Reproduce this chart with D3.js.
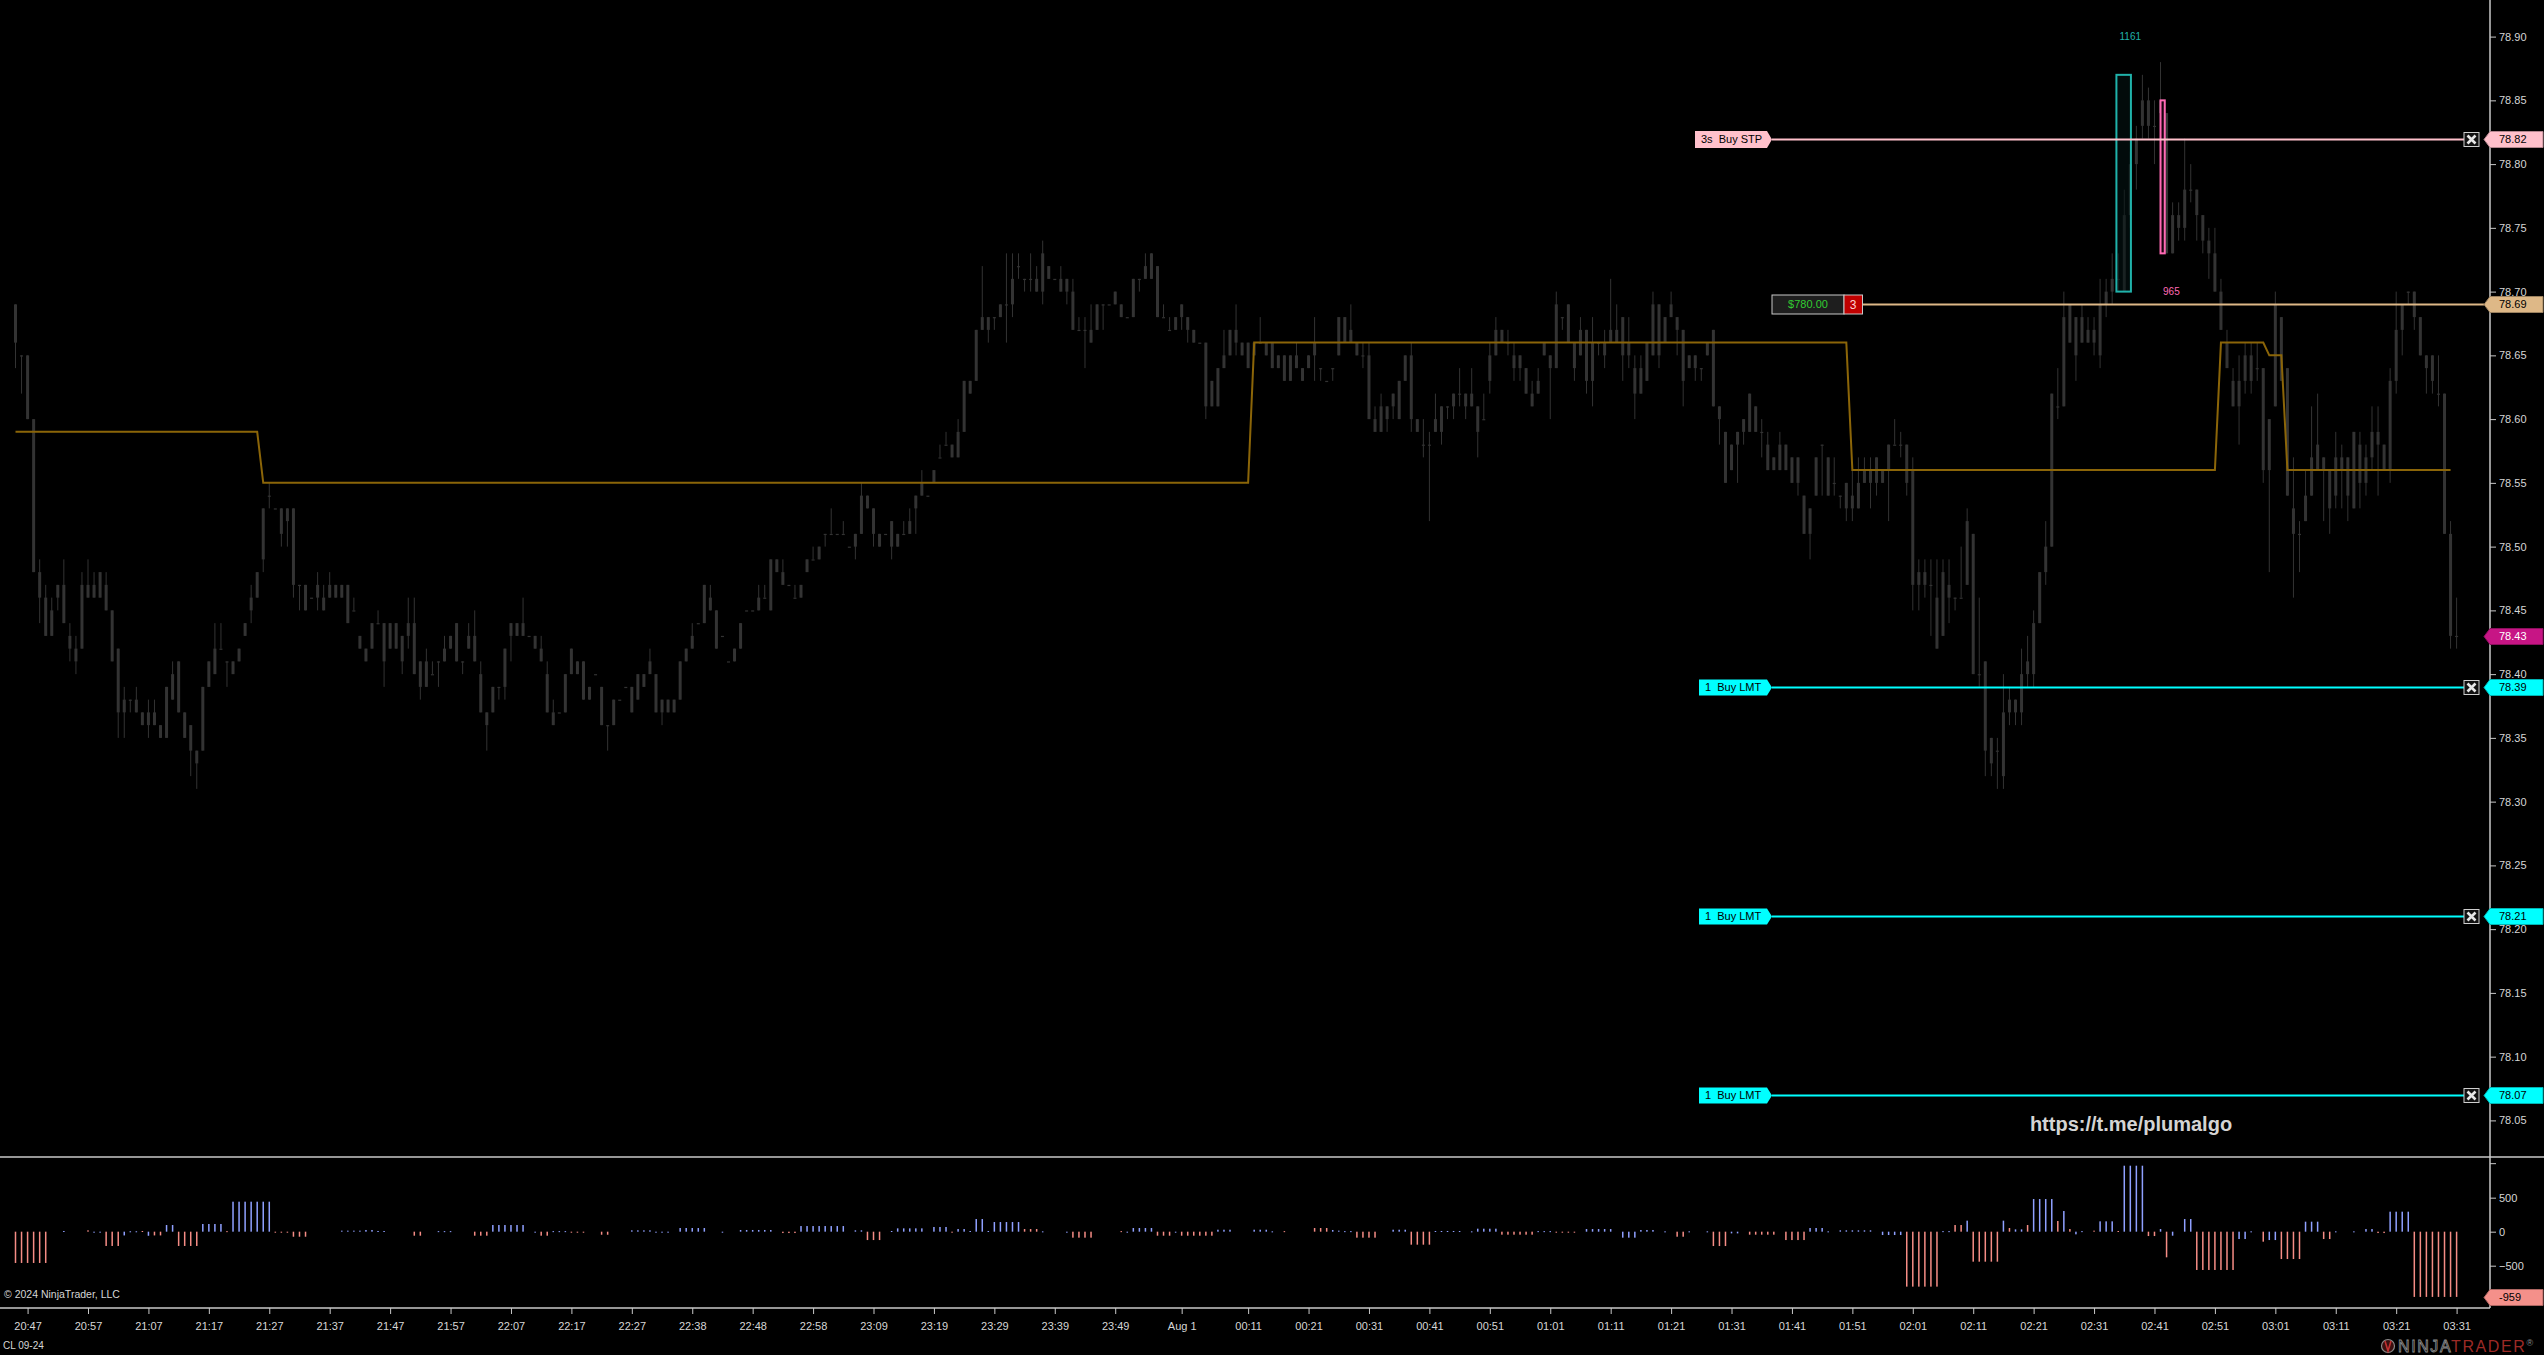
<!DOCTYPE html>
<html><head><meta charset="utf-8">
<script src="https://cdn.jsdelivr.net/npm/d3@7"></script>
<style>html,body{margin:0;padding:0;background:#000;overflow:hidden}svg{display:block}</style>
</head><body><svg id="chart"></svg>
<script>
// ---------------- DATA ----------------
// 1-minute bars, [open, high, low, close] in cents above 78.00
const priceBase = 78;
const ohlcCents = [
[69,69,64,66],[65,65,62,65],[65,65,60,60],[60,60,48,48],[48,49,44,46],[46,47,43,43],[43,46,43,45],[46,47,45,47],[47,49,44,44],[43,44,41,42],
[42,43,40,41],[42,48,42,47],[46,49,46,47],[47,48,46,46],[46,48,46,48],[47,48,45,45],[45,45,41,41],[42,42,35,37],[37,39,35,38],[38,38,37,38],
[38,39,37,37],[37,37,36,36],[36,38,35,37],[37,38,36,36],[36,36,35,35],[35,39,35,39],[38,41,38,40],[41,41,37,37],[37,37,35,35],[36,36,32,34],
[34,34,31,33],[34,39,34,39],[39,41,39,41],[40,44,40,42],[42,44,42,42],[41,41,39,41],[41,41,40,40],[41,42,41,42],[43,44,43,44],[45,47,44,46],
[46,48,46,48],[49,53,48,53],[54,55,53,54],[53,53,53,53],[53,53,50,51],[52,53,50,53],[53,53,46,47],[47,47,45,47],[47,47,45,45],[46,46,46,46],
[46,48,45,47],[46,47,45,45],[46,48,46,47],[47,47,46,46],[46,47,46,47],[47,47,44,44],[45,46,45,45],[43,43,42,42],[42,42,41,41],[42,44,42,44],
[44,45,44,44],[44,44,39,41],[42,44,42,44],[44,44,42,42],[43,43,40,41],[43,46,42,44],[44,46,40,40],[41,41,38,39],[39,42,39,41],[40,41,40,40],
[41,41,39,41],[41,43,41,42],[42,43,42,43],[44,44,41,41],[41,41,40,41],[42,44,42,43],[43,45,41,41],[40,41,37,37],[37,37,34,36],[37,39,37,39],
[39,39,38,39],[39,42,38,42],[43,44,41,44],[43,44,43,44],[44,46,43,43],[43,43,43,43],[43,43,42,42],[42,43,41,41],[40,41,37,37],[37,38,36,36],
[37,37,37,37],[37,40,37,40],[40,42,40,42],[41,41,40,40],[41,41,38,38],[38,39,38,39],[40,40,40,40],[39,39,36,36],[36,36,34,36],[36,38,36,38],
[38,38,38,38],[39,39,39,39],[39,39,37,37],[38,40,38,40],[39,40,39,40],[40,42,40,41],[40,40,37,37],[38,38,36,37],[37,38,37,38],[37,38,37,38],
[38,41,38,41],[41,42,41,42],[42,44,42,43],[44,44,44,44],[44,47,44,47],[46,47,45,45],[45,45,42,42],[43,43,43,43],[41,41,41,41],[41,42,41,42],
[42,44,42,44],[45,45,45,45],[45,45,45,45],[45,47,45,46],[46,47,46,46],[45,49,45,49],[48,49,48,49],[48,49,47,47],[47,47,47,47],[46,47,46,46],
[46,47,46,47],[48,49,48,49],[49,50,49,49],[49,50,49,50],[51,51,50,51],[51,53,51,51],[51,51,51,51],[51,52,51,51],[50,50,50,50],[50,51,49,51],
[51,55,51,54],[54,54,53,53],[53,53,50,51],[51,51,50,50],[51,51,51,51],[50,52,49,52],[51,51,50,50],[51,52,51,51],[51,53,51,52],[53,54,51,54],
[54,56,54,55],[54,54,54,54],[55,56,55,56],[57,58,57,57],[58,59,58,58],[58,58,57,57],[57,60,57,59],[59,63,59,63],[63,63,62,62],[63,67,63,67],
[67,72,67,68],[68,68,66,67],[68,68,67,68],[68,69,68,69],[69,73,66,69],[69,73,68,71],[72,73,71,72],[71,71,70,71],[71,73,70,71],[71,72,70,70],
[70,74,69,73],[72,72,71,71],[71,71,71,71],[71,72,70,70],[70,71,69,71],[70,71,67,67],[67,68,67,67],[67,68,64,67],[67,69,66,66],[67,69,67,69],
[69,69,67,69],[69,69,69,69],[69,70,69,70],[69,69,68,68],[68,68,68,68],[68,71,68,71],[71,71,70,71],[71,73,71,72],[71,73,71,73],[72,72,68,68],
[68,69,68,68],[67,68,67,67],[67,68,67,68],[68,69,67,69],[68,68,66,67],[67,67,66,66],[66,66,66,66],[66,66,60,61],[61,63,61,63],[61,64,61,64],
[64,67,64,65],[65,67,65,67],[67,69,65,66],[66,66,65,65],[66,66,64,64],[65,66,65,66],[66,68,66,66],[66,66,65,65],[66,66,64,64],[64,65,64,65],
[65,65,63,63],[63,65,63,65],[65,66,64,64],[64,64,63,63],[64,65,64,65],[65,68,63,66],[64,64,63,64],[63,63,63,63],[64,64,63,64],[65,68,65,68],
[68,68,66,66],[66,69,66,67],[66,66,65,65],[65,66,64,65],[65,66,60,60],[60,61,59,59],[59,62,59,61],[61,61,59,60],[61,62,60,62],[60,63,60,63],
[63,65,63,65],[65,66,59,60],[60,60,59,59],[58,60,57,58],[58,59,52,58],[59,62,59,60],[59,61,58,61],[61,61,60,61],[61,62,60,62],[62,64,61,62],
[62,62,60,61],[61,64,61,62],[61,61,57,59],[60,62,60,60],[63,66,62,65],[65,68,65,67],[67,67,66,66],[66,67,65,66],[65,66,63,64],[64,65,63,65],
[64,64,62,62],[62,63,61,61],[62,64,62,63],[65,66,65,66],[65,65,60,64],[64,70,64,69],[68,68,67,68],[69,69,66,66],[66,66,63,64],[65,68,65,67],
[67,67,62,63],[63,68,61,66],[66,66,65,66],[66,67,64,65],[66,71,66,67],[67,69,66,66],[68,68,63,65],[65,68,64,66],[64,65,60,62],[62,65,62,64],
[63,66,63,66],[65,70,65,69],[69,69,64,65],[66,68,66,68],[68,70,68,69],[68,68,65,67],[67,67,61,63],[64,65,64,65],[65,65,63,64],[64,64,63,64],
[65,66,65,66],[67,67,61,61],[61,61,58,60],[59,59,55,55],[56,58,56,58],[58,59,55,59],[59,60,58,60],[59,62,59,62],[61,61,59,59],[59,60,57,59],
[58,59,56,56],[56,57,56,57],[56,59,56,58],[58,58,56,56],[57,57,55,55],[55,57,54,57],[54,54,51,51],[51,53,49,53],[54,57,54,57],[58,58,54,58],
[57,57,54,54],[55,57,54,55],[54,54,53,54],[55,55,52,53],[53,56,52,54],[53,57,53,55],[55,57,55,56],[56,57,53,55],[55,57,54,57],[56,56,55,55],
[56,58,52,58],[58,60,58,58],[58,59,57,58],[58,58,54,55],[56,57,45,47],[47,49,45,48],[48,49,46,47],[47,49,43,47],[46,49,42,42],[43,49,43,48],
[47,49,44,46],[46,46,45,46],[46,50,46,46],[47,53,47,52],[51,51,40,40],[40,46,39,40],[41,41,32,34],[35,35,32,33],[34,35,31,34],[32,40,31,37],
[37,39,36,38],[38,38,36,37],[37,42,36,40],[40,43,39,41],[40,45,39,44],[44,48,44,48],[48,52,47,50],[50,62,50,62],[61,64,60,61],[61,70,61,68],
[69,69,66,66],[68,68,63,65],[66,69,66,68],[67,68,66,66],[66,68,65,67],[65,71,64,69],[69,71,68,70],[70,73,69,71],[71,73,70,71],[70,78,70,76],
[76,81,75,80],[80,83,78,82],[83,87,82,85],[85,86,82,83],[83,85,80,83],[84,88,82,85],[84,84,73,73],[73,77,73,76],[76,77,74,75],[75,82,74,78],
[78,80,77,78],[78,78,74,76],[76,76,73,74],[74,75,71,73],[73,75,70,70],[70,71,67,67],[66,67,64,64],[63,64,61,61],[61,65,58,63],[63,66,62,65],
[65,66,62,63],[64,66,63,64],[64,64,55,56],[56,60,48,60],[61,70,61,69],[68,68,63,63],[64,64,54,54],[53,57,46,51],[51,52,48,51],[52,56,52,54],
[54,61,54,57],[56,62,56,58],[57,57,52,56],[56,56,51,53],[54,59,53,57],[57,58,53,56],[57,57,52,54],[53,59,53,59],[58,59,53,55],[55,58,54,57],
[57,61,56,59],[59,61,54,58],[58,58,56,56],[56,64,55,63],[63,70,62,67],[67,69,65,69],[70,70,69,70],[70,70,67,68],[68,68,65,65],[65,65,62,64],
[65,65,62,63],[62,65,61,62],[62,62,51,51],[51,52,42,43],[43,46,42,43]
];
// stepped indicator (orange): [fromBar, toBar, level]
const pivotRuns = [[0,40,78.59],[41,204,78.55],[205,303,78.66],[304,364,78.56],[365,372,78.66],[373,375,78.65],[376,403,78.56]];
// lower-panel histogram: [fromBar, toBar, value, colour]
const deltaRuns = [
[0,5,-460,'r'],[8,8,10,'b'],[12,12,20,'r'],[13,14,-8,'b'],[15,17,-210,'r'],[18,18,-55,'b'],[19,20,6,'b'],[21,21,10,'r'],[22,22,-60,'b'],[23,24,-55,'r'],
[25,26,98,'b'],[27,30,-210,'r'],[31,34,113,'b'],[35,35,8,'r'],[36,42,441,'b'],[43,45,-8,'r'],[46,48,-74,'r'],[54,57,15,'b'],[58,59,25,'b'],[60,61,10,'b'],
[66,67,-59,'r'],[70,72,8,'b'],[76,78,-59,'r'],[79,84,98,'b'],[86,86,-10,'b'],[87,88,-59,'r'],[89,91,8,'b'],[92,94,-8,'r'],[97,98,-45,'r'],[102,105,20,'b'],
[106,108,-10,'b'],[110,114,54,'b'],[117,117,-8,'b'],[120,125,25,'b'],[127,129,-20,'r'],[130,137,83,'b'],[139,140,20,'b'],[141,143,-123,'r'],[145,145,10,'b'],[146,150,49,'b'],
[152,154,69,'b'],[155,155,-8,'r'],[156,157,39,'b'],[158,158,10,'b'],[159,160,186,'b'],[161,161,10,'b'],[162,166,142,'b'],[167,169,39,'r'],[170,170,5,'b'],[174,174,-10,'b'],
[175,178,-88,'r'],[183,183,8,'r'],[184,184,-8,'b'],[185,188,54,'b'],[189,191,-59,'r'],[192,192,-10,'b'],[193,198,-59,'r'],[199,201,29,'b'],[205,207,29,'b'],[208,208,5,'b'],
[210,210,8,'r'],[215,217,54,'r'],[218,218,25,'b'],[219,219,15,'b'],[220,221,8,'b'],[222,225,-88,'r'],[228,230,29,'b'],[231,234,-191,'r'],[235,239,10,'b'],[241,241,5,'b'],
[242,245,44,'b'],[246,251,-44,'r'],[252,254,8,'b'],[255,258,-8,'r'],[260,264,39,'b'],[266,268,-88,'b'],[269,271,25,'b'],[273,273,5,'b'],[275,276,-74,'r'],[277,277,5,'b'],
[280,280,5,'b'],[281,283,-211,'r'],[284,285,-25,'b'],[287,291,-44,'r'],[293,296,-123,'r'],[297,299,54,'b'],[300,300,5,'b'],[302,307,20,'b'],[309,312,-49,'b'],[313,318,-808,'r'],
[319,320,8,'b'],[321,322,98,'r'],[323,323,162,'b'],[324,328,-441,'r'],[329,329,162,'b'],[330,330,54,'r'],[331,332,34,'b'],[333,333,98,'r'],[334,337,480,'b'],[338,338,157,'r'],
[339,339,304,'b'],[340,340,39,'r'],[341,341,-39,'b'],[342,342,8,'b'],[344,344,15,'r'],[345,347,152,'b'],[348,348,10,'r'],[349,352,970,'b'],[353,354,-64,'r'],[355,355,39,'b'],
[356,356,-377,'r'],[357,357,-59,'b'],[359,360,186,'b'],[361,367,-563,'r'],[368,369,-108,'b'],[370,370,5,'b'],[372,372,-147,'r'],[373,374,-123,'b'],[375,378,-402,'r'],[379,381,147,'b'],
[382,383,-108,'r'],[384,384,5,'b'],[387,387,5,'b'],[389,390,39,'b'],[391,392,-20,'r'],[393,396,294,'b'],[397,404,-959,'r']
];
const timeTickBars = [2,12,22,32,42,52,62,72,82,92,102,112,122,132,142,152,162,172,182,193,204,214,224,234,244,254,264,274,284,294,304,314,324,334,344,354,364,374,384,394,404];
const timeTickLabels = ['20:47','20:57','21:07','21:17','21:27','21:37','21:47','21:57','22:07','22:17','22:27','22:38','22:48','22:58','23:09','23:19','23:29','23:39','23:49','Aug 1','00:11','00:21','00:31','00:41','00:51','01:01','01:11','01:21','01:31','01:41','01:51','02:01','02:11','02:21','02:31','02:41','02:51','03:01','03:11','03:21','03:31'];
const priceTicks = [78.05,78.10,78.15,78.20,78.25,78.30,78.35,78.40,78.45,78.50,78.55,78.60,78.65,78.70,78.75,78.80,78.85,78.90];
const deltaTicks = [500,0,-500];
const orders = [
  {price:78.82, label:'3s  Buy STP', kind:'stop'},
  {price:78.39, label:'1  Buy LMT', kind:'limit'},
  {price:78.21, label:'1  Buy LMT', kind:'limit'},
  {price:78.07, label:'1  Buy LMT', kind:'limit'}
];
const position = {price:78.69, pnl:'$780.00', qty:'3'};
const lastPrice = 78.43;
const lastDelta = -959;
const volumeBoxes = [
  {from:347.7, to:350.1, high:78.87, low:78.70, text:'1161', textBar:350, textPrice:78.90, kind:'buy'},
  {from:355.0, to:355.7, high:78.85, low:78.73, text:'965', textBar:356.8, textPrice:78.70, kind:'sell'}
];

// ---------------- LAYOUT / STYLE ----------------
const W = 2544, H = 1355;
const axisX = 2490, paneBottom = 1157, lowerBottom = 1308;
const FONT = "'Liberation Sans',Arial,sans-serif";
const FS = 11;
const COL = {bar:'#333333', pivot:'#8b6508', axis:'#c8c8c8', text:'#d6d6d6', stop:'#ffc0cb', limit:'#00ffff',
  pos:'#deb887', last:'#c71585', up:'#8fa0ff', dn:'#f58c85', teal:'#20b2aa', pink:'#ff69b4'};

const svg = d3.select('#chart').attr('width', W).attr('height', H).style('background', '#000');

const bars = ohlcCents.map((d, i) => ({i, o: priceBase + d[0]/100, h: priceBase + d[1]/100, l: priceBase + d[2]/100, c: priceBase + d[3]/100}));

const x = d3.scaleLinear().domain([0, 404]).range([15.5, 2456.6]);
const y = d3.scaleLinear().domain([78.0213, 78.9287]).range([paneBottom, 0]);
const yd = d3.scaleLinear().domain([-1122, 1098]).range([lowerBottom, paneBottom]);

const defs = svg.append('defs');
defs.append('clipPath').attr('id', 'pane').append('rect').attr('x', 0).attr('y', 0).attr('width', axisX).attr('height', paneBottom);
defs.append('clipPath').attr('id', 'lower').append('rect').attr('x', 0).attr('y', paneBottom + 1).attr('width', axisX).attr('height', lowerBottom - paneBottom - 1);

const pane = svg.append('g').attr('clip-path', 'url(#pane)');

// candles
const cg = pane.append('g');
cg.selectAll('line.wick').data(bars.filter(d => d.h > d.l)).join('line')
  .attr('x1', d => x(d.i)).attr('x2', d => x(d.i)).attr('y1', d => y(d.h)).attr('y2', d => y(d.l))
  .attr('stroke', COL.bar).attr('stroke-width', 1);
cg.selectAll('rect.body').data(bars).join('rect')
  .attr('x', d => x(d.i) - 1.5).attr('width', 3)
  .attr('y', d => y(Math.max(d.o, d.c)))
  .attr('height', d => Math.max(1.2, Math.abs(y(d.o) - y(d.c))))
  .attr('fill', COL.bar);

// volume boxes
const boxTop = pane.append('g');
volumeBoxes.forEach(b => {
  boxTop.append('rect').attr('x', x(b.from)).attr('y', y(b.high)).attr('width', x(b.to) - x(b.from)).attr('height', y(b.low) - y(b.high))
    .attr('fill', b.kind === 'buy' ? 'rgba(4,20,20,0.55)' : '#1a0410').attr('stroke', b.kind === 'buy' ? COL.teal : COL.pink).attr('stroke-width', 2);
  boxTop.append('text').attr('x', x(b.textBar)).attr('y', y(b.textPrice)).attr('dy', '0.35em').attr('text-anchor', 'middle')
    .attr('font-family', FONT).attr('font-size', 10).attr('fill', b.kind === 'buy' ? COL.teal : COL.pink).text(b.text);
});

// stepped indicator
const pivot = [];
pivotRuns.forEach(r => { for (let i = r[0]; i <= r[1]; i++) pivot.push({i, v: r[2]}); });
pane.append('path').datum(pivot).attr('fill', 'none').attr('stroke', COL.pivot).attr('stroke-width', 2)
  .attr('d', d3.line().x(d => x(d.i)).y(d => y(d.v)));

// watermark
svg.append('text').attr('x', 2131).attr('y', 1131).attr('text-anchor', 'middle').attr('font-family', FONT)
  .attr('font-weight', 'bold').attr('font-size', 20).attr('fill', '#d4d4d4').text('https://t.me/plumalgo');

// ---------------- price axis ----------------
const yAxis = d3.axisRight(y).tickValues(priceTicks).tickFormat(d3.format('.2f')).tickSize(6).tickSizeOuter(0).tickPadding(3);
const ya = svg.append('g').attr('transform', `translate(${axisX},0)`).call(yAxis);
ya.select('.domain').remove();
ya.selectAll('line').attr('stroke', COL.axis);
ya.selectAll('text').attr('fill', COL.text).attr('font-family', FONT).attr('font-size', FS);

// lower axis
const dAxis = d3.axisRight(yd).tickValues(deltaTicks).tickFormat(d3.format('d')).tickSize(6).tickSizeOuter(0).tickPadding(3);
const da = svg.append('g').attr('transform', `translate(${axisX},0)`).call(dAxis);
da.select('.domain').remove();
da.selectAll('line').attr('stroke', COL.axis);
da.selectAll('text').attr('fill', COL.text).attr('font-family', FONT).attr('font-size', FS);
svg.append('line').attr('x1', axisX).attr('x2', axisX + 6).attr('y1', yd(1000)).attr('y2', yd(1000)).attr('stroke', COL.axis);

// time axis
const xAxis = d3.axisBottom(x).tickValues(timeTickBars).tickFormat((d, k) => timeTickLabels[k]).tickSize(6).tickSizeOuter(0).tickPadding(8);
const xa = svg.append('g').attr('transform', `translate(0,${lowerBottom})`).call(xAxis);
xa.select('.domain').remove();
xa.selectAll('line').attr('stroke', COL.axis);
xa.selectAll('text').attr('fill', COL.text).attr('font-family', FONT).attr('font-size', FS);

// frame lines
svg.append('line').attr('x1', axisX).attr('x2', axisX).attr('y1', 0).attr('y2', lowerBottom).attr('stroke', COL.axis).attr('stroke-width', 1.5);
svg.append('line').attr('x1', 0).attr('x2', W).attr('y1', paneBottom).attr('y2', paneBottom).attr('stroke', COL.axis).attr('stroke-width', 1.5);
svg.append('line').attr('x1', 0).attr('x2', axisX).attr('y1', lowerBottom).attr('y2', lowerBottom).attr('stroke', COL.axis).attr('stroke-width', 1.5);

// ---------------- lower histogram ----------------
const delta = [];
deltaRuns.forEach(r => { for (let i = r[0]; i <= r[1]; i++) delta.push({i, v: r[2], c: r[3]}); });
svg.append('g').attr('clip-path', 'url(#lower)').selectAll('rect').data(delta).join('rect')
  .attr('x', d => x(d.i) - 0.75).attr('width', 1.5)
  .attr('y', d => Math.min(yd(d.v), yd(0))).attr('height', d => Math.max(1, Math.abs(yd(d.v) - yd(0))))
  .attr('fill', d => d.c === 'b' ? COL.up : COL.dn);

// ---------------- flags on axis ----------------
function flag(yy, fill, txt, tc) {
  const g = svg.append('g');
  g.append('path').attr('d', `M${axisX - 6},${yy} L${axisX},${yy - 8} L${W - 1},${yy - 8} L${W - 1},${yy + 8} L${axisX},${yy + 8} Z`)
    .attr('fill', fill).attr('stroke', d3.color(fill).darker(1)).attr('stroke-width', 1);
  g.append('text').attr('x', axisX + 9).attr('y', yy).attr('dy', '0.36em').attr('font-family', FONT).attr('font-size', FS)
    .attr('fill', tc).text(txt);
}
function xBox(yy) {
  const g = svg.append('g');
  g.append('rect').attr('x', 2464).attr('y', yy - 7).attr('width', 15).attr('height', 14).attr('fill', '#111').attr('stroke', '#cfcfcf').attr('stroke-width', 1);
  g.append('path').attr('d', `M2467.5,${yy - 4} L2475.5,${yy + 4} M2475.5,${yy - 4} L2467.5,${yy + 4}`).attr('stroke', '#e6e6e6').attr('stroke-width', 2.6);
}
function orderTag(x0, tip, yy, h, fill, txt) {
  const g = svg.append('g');
  g.append('path').attr('d', `M${x0},${yy - h / 2} L${tip - 5},${yy - h / 2} L${tip},${yy} L${tip - 5},${yy + h / 2} L${x0},${yy + h / 2} Z`).attr('fill', fill);
  g.append('text').attr('x', x0 + 6).attr('y', yy).attr('dy', '0.36em').attr('font-family', FONT).attr('font-size', FS)
    .attr('fill', '#000').style('white-space', 'pre').text(txt);
}

// orders
orders.forEach(o => {
  const yy = Math.round(y(o.price)) + 0.5;
  const col = o.kind === 'stop' ? COL.stop : COL.limit;
  const x0 = o.kind === 'stop' ? 1695 : 1699;
  svg.append('line').attr('x1', 1772).attr('x2', 2464).attr('y1', yy).attr('y2', yy).attr('stroke', col).attr('stroke-width', 2);
  orderTag(x0, 1772, yy, o.kind === 'stop' ? 17 : 16, col, o.label);
  xBox(yy);
  flag(yy, col, o.price.toFixed(2), '#000');
});

// position line
{
  const yy = Math.round(y(position.price)) + 0.5;
  svg.append('line').attr('x1', 1862).attr('x2', axisX - 6).attr('y1', yy).attr('y2', yy).attr('stroke', COL.pos).attr('stroke-width', 2);
  svg.append('rect').attr('x', 1772).attr('y', yy - 9.5).attr('width', 72).attr('height', 19).attr('fill', '#1e1e1e').attr('stroke', '#c8c8c8');
  svg.append('text').attr('x', 1808).attr('y', yy).attr('dy', '0.36em').attr('text-anchor', 'middle').attr('font-family', FONT).attr('font-size', FS).attr('fill', '#32cd32').text(position.pnl);
  svg.append('rect').attr('x', 1844).attr('y', yy - 9.5).attr('width', 18.5).attr('height', 19).attr('fill', '#c00000').attr('stroke', '#c8c8c8');
  svg.append('text').attr('x', 1853.2).attr('y', yy).attr('dy', '0.36em').attr('text-anchor', 'middle').attr('font-family', FONT).attr('font-size', FS + 1).attr('fill', '#ffd0d0').text(position.qty);
  flag(yy, COL.pos, position.price.toFixed(2), '#000');
}
flag(Math.round(y(lastPrice)) + 0.5, COL.last, lastPrice.toFixed(2), '#fff');
flag(Math.round(yd(lastDelta)) + 0.5, '#f4908a', String(lastDelta), '#000');

// ---------------- misc text ----------------
svg.append('text').attr('x', 4).attr('y', 1298).attr('font-family', FONT).attr('font-size', 10.5).attr('fill', COL.text).text('\u00a9 2024 NinjaTrader, LLC');
svg.append('text').attr('x', 3).attr('y', 1349).attr('font-family', FONT).attr('font-size', 10).attr('fill', COL.text).text('CL 09-24');

// logo
const lg = svg.append('g');
lg.append('circle').attr('cx', 2388).attr('cy', 1346).attr('r', 6.5).attr('fill', '#3a1010').attr('stroke', '#8a8a8a').attr('stroke-width', 1.2);
lg.append('path').attr('d', 'M2385,1341 L2388,1351 L2391,1341').attr('fill', 'none').attr('stroke', '#c03030').attr('stroke-width', 1.6);
const lt = lg.append('text').attr('x', 2398).attr('y', 1352).attr('font-family', FONT).attr('font-size', 16).attr('letter-spacing', 1.6);
lt.append('tspan').attr('fill', 'none').attr('stroke', '#8c8c8c').attr('stroke-width', 0.8).text('NINJA');
lt.append('tspan').attr('fill', '#9c2a26').text('TRADER');
lt.append('tspan').attr('fill', '#8c8c8c').attr('font-size', 9).attr('dy', -6).text('\u00ae');
</script></body></html>
